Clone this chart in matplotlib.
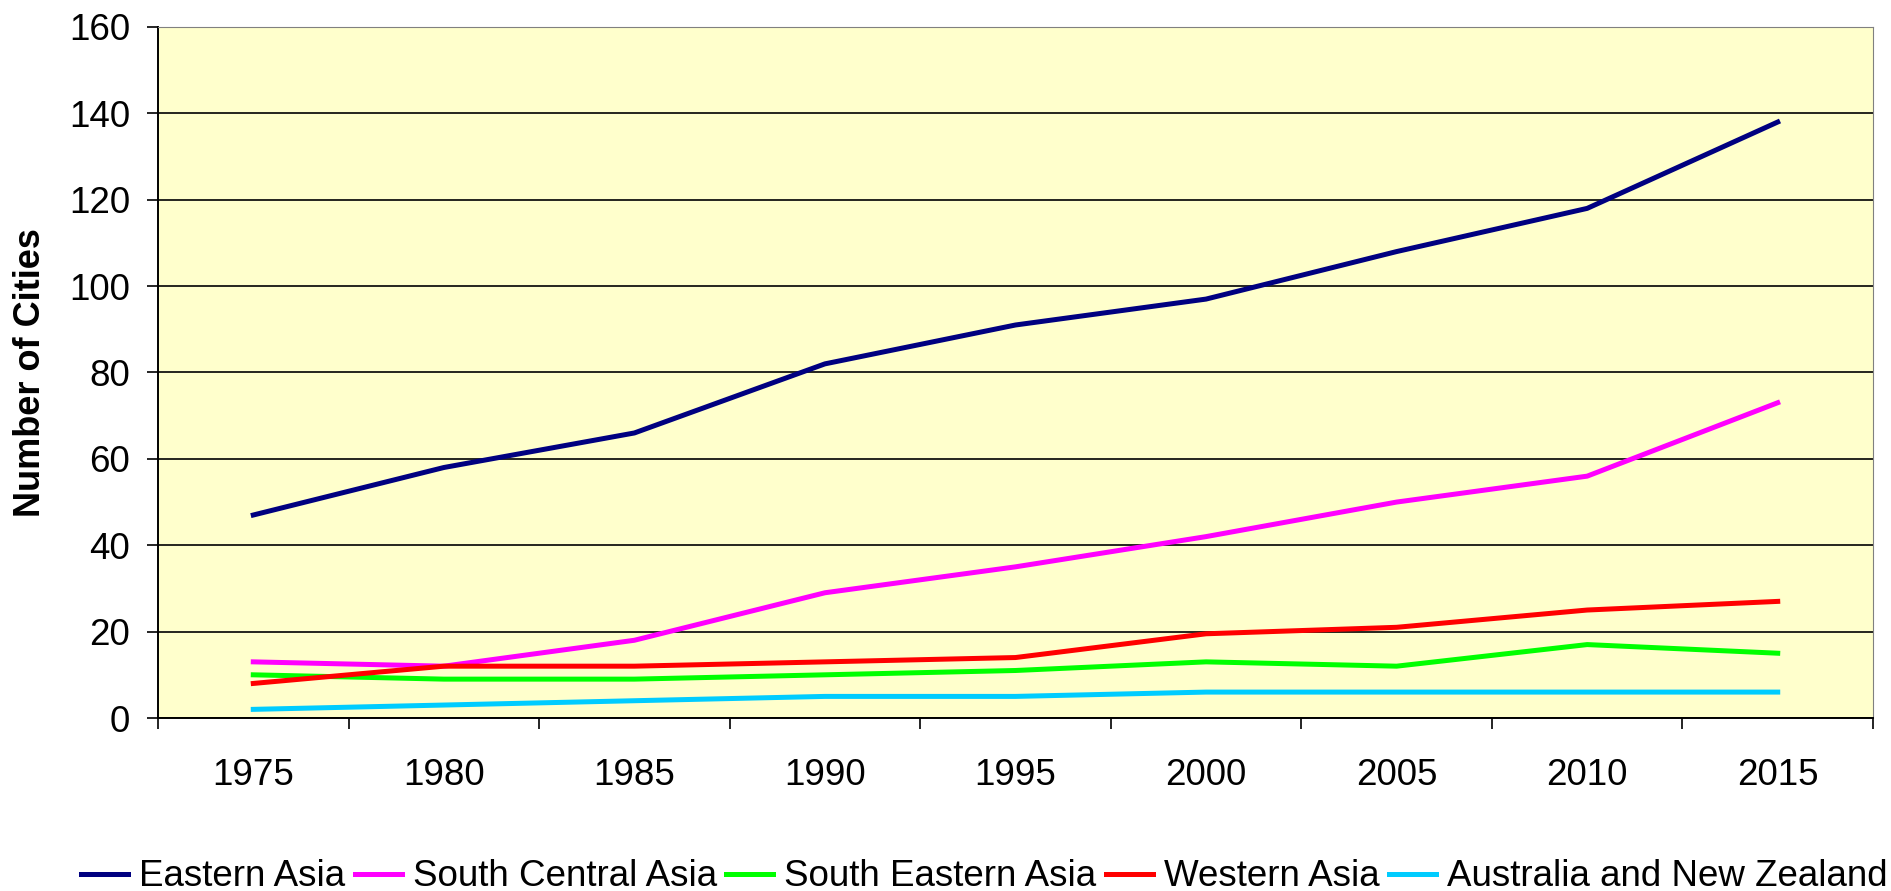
import numpy as np
from matplotlib import pyplot as plt

years = ['1975', '1980', '1985', '1990', '1995', '2000', '2005', '2010', '2015']
eastern_asia = [47, 58, 66, 82, 91, 97, 108, 118, 138]
south_central_asia = [13, 12, 18, 29, 35, 42, 50, 56, 73]
south_eastern_asia = [10, 9, 9, 10, 11, 13, 12, 17, 15]
western_asia = [8, 12, 12, 13, 14, 19.5, 21, 25, 27]
australia_nz = [2, 3, 4, 5, 5, 6, 6, 6, 6]

series = [
  ('Eastern Asia', eastern_asia, '#000080'),
  ('South Central Asia', south_central_asia, '#FF00FF'),
  ('South Eastern Asia', south_eastern_asia, '#00FF00'),
  ('Western Asia', western_asia, '#FF0000'),
  ('Australia and New Zealand', australia_nz, '#00CCFF'),
]

plt.rcParams['font.family'] = ['Liberation Sans', 'DejaVu Sans']

fig = plt.figure(figsize=(18.91, 8.91), dpi=100)
ax = fig.add_axes([158/1891, 1 - 718/891, (1873-158)/1891, (718-27)/891])
ax.set_facecolor('#FFFFCC')

x = np.arange(len(years))
for name, vals, col in series:
  ax.plot(x, vals, color=col, lw=3.6, label=name)

ax.set_xlim(-0.5, len(years) - 0.5)
ax.set_ylim(0, 160)
ax.set_yticks(np.arange(0, 161, 20))
ax.yaxis.grid(True, color='black', lw=1.2)
ax.set_axisbelow(True)

# ticks sit between categories, labels in the middle
ax.set_xticks(np.arange(-0.5, len(years), 1))
ax.set_xticklabels([])
ax.set_xticks(x, minor=True)
ax.set_xticklabels(years, minor=True)
ax.tick_params(axis='x', which='major', length=8, width=1.2, direction='out')
ax.tick_params(axis='x', which='minor', length=0, pad=29, labelsize=26.5)
ax.tick_params(axis='y', length=8, width=1.2, direction='out', labelsize=26.5, pad=12)

ax.spines['left'].set_color('black')
ax.spines['bottom'].set_color('black')
ax.spines['left'].set_linewidth(1.4)
ax.spines['bottom'].set_linewidth(1.4)
ax.spines['top'].set_color('#808080')
ax.spines['right'].set_color('#808080')

ax.set_ylabel('Number of Cities', fontsize=26, fontweight='bold')
ax.yaxis.set_label_coords(-0.064, 0.5)

fig.legend(loc='lower center', bbox_to_anchor=(0.5205, -0.041), ncol=5, frameon=False,
           fontsize=26.5, handlelength=1.28, handletextpad=0.3, columnspacing=0.25)

fig.savefig('out.png', dpi=100)
